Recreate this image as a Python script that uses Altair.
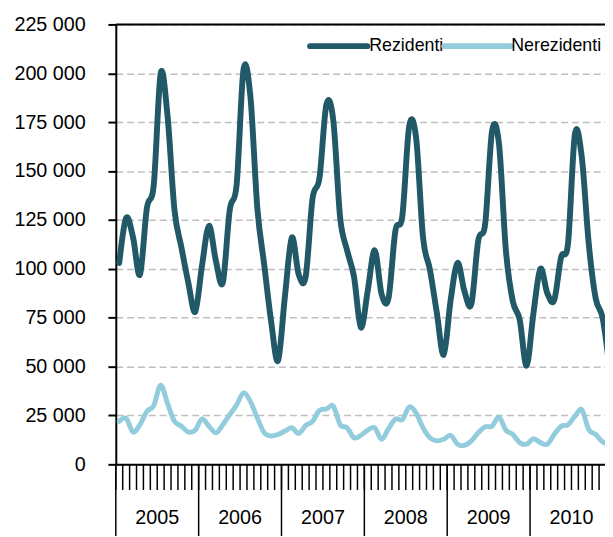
import altair as alt
import pandas as pd

years = ["2005", "2006", "2007", "2008", "2009", "2010"]
series = ["Rezidenti", "Nerezidenti"]
colors = ["#215968", "#93cddd"]
y_ticks = [0, 25000, 50000, 75000, 100000, 125000, 150000, 175000, 200000, 225000]

rezidenti = [
    103000, 126000, 116000, 97000, 131000, 143000, 200000, 178000, 130000, 111000, 93000, 78000,
    102000, 122000, 104000, 93000, 130000, 143000, 202000, 188000, 131000, 102000, 73000, 53000,
    86000, 116000, 97000, 96000, 136000, 146500, 184000, 176000, 126000, 109500, 96000, 70000,
    89000, 109500, 87000, 85000, 119500, 127000, 173000, 167000, 116000, 99500, 77500, 56000,
    84000, 103000, 88500, 82000, 114500, 123000, 170500, 164000, 109500, 83500, 74000, 50500,
    77500, 100000, 87500, 84000, 106000, 113000, 169000, 157000, 113000, 85000, 75000, 50000,
]
nerezidenti = [
    22000, 23500, 16500, 20300, 27100, 30000, 40500, 31000, 22000, 19500, 16500, 17500,
    23200, 19500, 16100, 20300, 25400, 30400, 36500, 32100, 23700, 16100, 14500, 15300,
    17000, 18700, 15800, 19800, 22000, 27600, 28300, 29800, 20300, 18700, 13600, 14800,
    17500, 18700, 12800, 18200, 23200, 22900, 29300, 26200, 18700, 13600, 12000, 12800,
    14800, 10300, 9700, 12000, 16100, 19200, 19500, 24200, 17500, 15300, 11100, 10300,
    13100, 11100, 10300, 15300, 19500, 20300, 24600, 27900, 17800, 15300, 11500, 10000,
]

rows = []
for k, (r, n) in enumerate(zip(rezidenti, nerezidenti)):
    rows.append({"m": k, "series": "Rezidenti", "v": r})
    rows.append({"m": k, "series": "Nerezidenti", "v": n})
df = pd.DataFrame(rows)

W = 496
H = 446
FONT = "Liberation Sans"

xscale = alt.Scale(domain=[-0.5, -0.5 + W / 7.0], nice=False, zero=False)
yscale = alt.Scale(domain=[0, 225000], nice=False)

lines = alt.Chart(df).mark_line(
    interpolate="cardinal", clip=True, strokeCap="round", strokeJoin="round"
).encode(
    x=alt.X(
        "m:Q", scale=xscale,
        axis=alt.Axis(
            labels=False, ticks=False, title=None,
            domainColor="black", domainWidth=2, grid=False,
        ),
    ),
    y=alt.Y(
        "v:Q", scale=yscale,
        axis=alt.Axis(
            values=y_ticks, title=None,
            labelExpr="replace(format(datum.value, ','), ',', ' ')",
            labelFont=FONT, labelFontSize=20, labelColor="black", labelPadding=23,
            tickSize=8, tickWidth=2, tickColor="black",
            domainColor="black", domainWidth=2,
            grid=True, gridColor="#bfbfbf", gridDash=[7, 4], gridWidth=1.5,
        ),
    ),
    color=alt.Color("series:N", scale=alt.Scale(domain=series, range=colors), legend=None),
    strokeWidth=alt.StrokeWidth("series:N", scale=alt.Scale(domain=series, range=[6, 5]), legend=None),
)

top_rule = alt.Chart(pd.DataFrame({"v": [225000]})).mark_rule(
    color="black", strokeWidth=2
).encode(y=alt.Y("v:Q", scale=yscale))

mdf = pd.DataFrame({"b": [i - 0.5 for i in range(73)]})
month_ticks = alt.Chart(mdf).mark_rule(color="black", strokeWidth=1.5).encode(
    x=alt.X("b:Q", scale=xscale), y=alt.value(H), y2=alt.value(H + 26)
)

ydf = pd.DataFrame({"year": years, "idx": list(range(len(years)))})
ydf["b"] = ydf["idx"] * 12 - 0.5
ydf["c"] = ydf["idx"] * 12 + 5.5

year_rules = alt.Chart(ydf).mark_rule(color="black", strokeWidth=1.5).encode(
    x=alt.X("b:Q", scale=xscale), y=alt.value(H), y2=alt.value(H + 80)
)
year_text = alt.Chart(ydf).mark_text(
    font=FONT, fontSize=20, color="black", baseline="middle", align="center"
).encode(x=alt.X("c:Q", scale=xscale), text="year:N", y=alt.value(H + 55))

leg_pos = [(197, 255, 257), (333, 400, 401)]
legend_layers = []
for s, c, (x1, x2, xt) in zip(series, colors, leg_pos):
    ldf = pd.DataFrame({"name": [s]})
    legend_layers.append(
        alt.Chart(ldf).mark_rule(color=c, strokeWidth=6, strokeCap="round").encode(
            x=alt.value(x1), x2=alt.value(x2), y=alt.value(22)
        )
    )
    legend_layers.append(
        alt.Chart(ldf).mark_text(
            font=FONT, fontSize=18, color="black", align="left", baseline="middle"
        ).encode(x=alt.value(xt), y=alt.value(22), text="name:N")
    )

chart = alt.layer(
    lines, top_rule, month_ticks, year_rules, year_text, *legend_layers
).properties(
    width=W, height=H,
    autosize=alt.AutoSizeParams(type="none"),
    padding={"left": 109.3, "top": 13, "right": 0, "bottom": 69},
).configure_view(stroke=None).configure(background="white")

chart.save("out.html", embed_options={"renderer": "svg", "actions": False})
